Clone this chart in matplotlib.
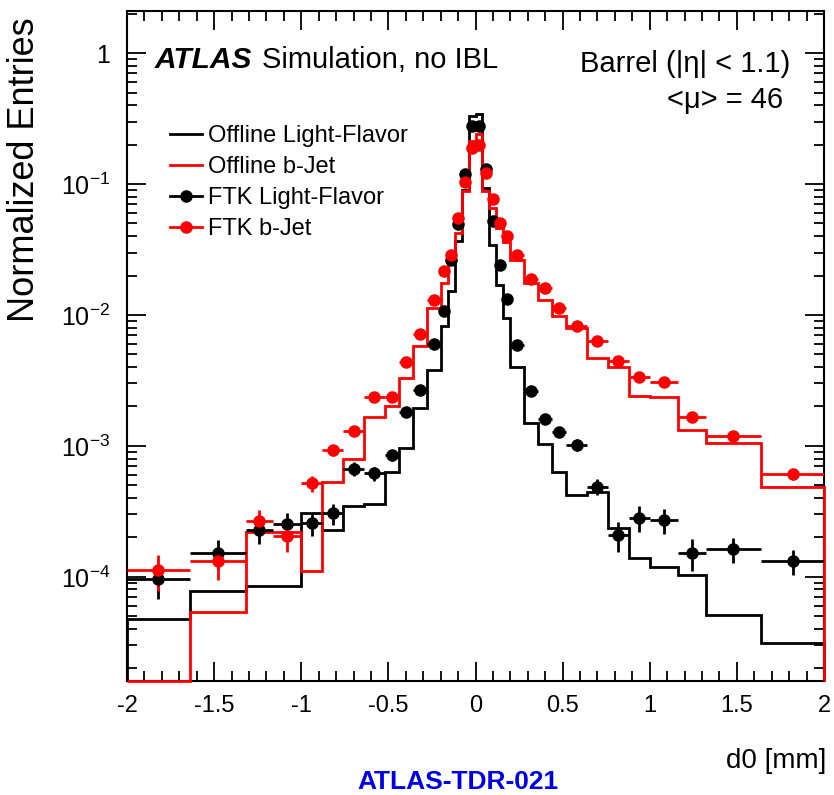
import numpy as np
import matplotlib
matplotlib.use("Agg")
import matplotlib.pyplot as plt
from matplotlib.lines import Line2D
from matplotlib.ticker import MultipleLocator, FixedLocator, LogLocator, NullFormatter, FuncFormatter

# ─── DATA ─────────────────────────────────────────────────────────────────────
# variable-width d0 bins (mm), symmetric around zero
bin_edges = [-2.0, -1.64, -1.32, -1.16, -1.0, -0.88, -0.76, -0.64, -0.52, -0.44,
             -0.36, -0.28, -0.20, -0.16, -0.12, -0.08, -0.04, 0.0,
             0.04, 0.08, 0.12, 0.16, 0.20, 0.28, 0.36, 0.44, 0.52,
             0.64, 0.76, 0.88, 1.0, 1.16, 1.32, 1.64, 2.0]

offline_lf = [4.75e-5, 7.8e-5, 8.5e-5, 8.5e-5, 3.05e-4, 2.28e-4, 3.5e-4, 3.6e-4, 6.35e-4,
              9.6e-4, 1.94e-3, 3.8e-3, 8.2e-3, 0.0153, 0.0365, 0.0906, 0.33,
              0.34, 0.094, 0.0344, 0.0170, 0.0095, 0.0040, 0.0015, 0.00104, 0.000635,
              0.00042, 0.000447, 0.000234, 0.000138, 0.000119, 0.000104, 5.15e-5, 3.1e-5]

offline_b = [0.0, 5.4e-5, 2.21e-4, 2.21e-4, 1.1e-4, 5.3e-4, 8.0e-4, 1.67e-3, 2.0e-3,
             3.3e-3, 5.8e-3, 0.0113, 0.0175, 0.027, 0.042, 0.088, 0.215,
             0.24, 0.088, 0.066, 0.046, 0.036, 0.0264, 0.0175, 0.0131, 0.00975,
             0.0080, 0.00468, 0.00404, 0.00242, 0.00238, 0.00132, 0.00105, 0.000488]

ftk_lf = [9.7e-5, 1.53e-4, 2.28e-4, 2.51e-4, 2.56e-4, 3.05e-4, 6.67e-4, 6.17e-4, 8.53e-4,
          1.83e-3, 2.68e-3, 6.0e-3, 0.0108, 0.0264, 0.0495, 0.12, 0.28,
          0.28, 0.13, 0.052, 0.0239, 0.0133, 0.0059, 0.00263, 0.0016, 0.00128,
          0.00102, 0.000488, 0.000208, 0.000283, 0.000271, 0.000153, 0.000163, 0.000132]
ftk_lf_relerr = [0.30, 0.25, 0.22, 0.22, 0.20, 0.18, 0.12, 0.12, 0.10,
                 0.07, 0.06, 0.04, 0.03, 0.02, 0.02, 0.01, 0.01,
                 0.01, 0.01, 0.02, 0.02, 0.03, 0.04, 0.06, 0.08, 0.09,
                 0.10, 0.14, 0.25, 0.22, 0.22, 0.28, 0.22, 0.22]

ftk_b = [1.12e-4, 1.32e-4, 2.67e-4, 2.06e-4, 5.17e-4, 9.3e-4, 1.3e-3, 2.38e-3, 2.38e-3,
         4.4e-3, 7.13e-3, 0.0131, 0.0215, 0.0288, 0.055, 0.104, 0.19,
         0.20, 0.122, 0.077, 0.0504, 0.0398, 0.0288, 0.0189, 0.0162, 0.0114,
         0.00817, 0.00634, 0.00447, 0.00333, 0.0031, 0.00167, 0.00118, 0.000606]
ftk_b_relerr = [0.30, 0.28, 0.22, 0.25, 0.14, 0.10, 0.08, 0.06, 0.06,
                0.04, 0.03, 0.02, 0.02, 0.02, 0.01, 0.01, 0.01,
                0.01, 0.01, 0.01, 0.02, 0.02, 0.02, 0.03, 0.03, 0.04,
                0.04, 0.05, 0.06, 0.06, 0.06, 0.08, 0.08, 0.10]

x_ticks = [-2, -1.5, -1, -0.5, 0, 0.5, 1, 1.5, 2]
y_ticks = [1e-4, 1e-3, 1e-2, 1e-1, 1]
y_tick_labels = ["$10^{-4}$", "$10^{-3}$", "$10^{-2}$", "$10^{-1}$", "1"]

Y_MIN, Y_MAX = 1.6e-5, 2.1

# ─── STYLE ────────────────────────────────────────────────────────────────────
plt.rcParams["font.family"] = ["Liberation Sans", "DejaVu Sans"]
plt.rcParams["axes.unicode_minus"] = False
plt.rcParams["mathtext.fontset"] = "custom"
plt.rcParams["mathtext.rm"] = "Liberation Sans"
plt.rcParams["mathtext.it"] = "Liberation Sans:italic"
plt.rcParams["mathtext.bf"] = "Liberation Sans:bold"

fig = plt.figure(figsize=(8.34, 7.95), dpi=100)
ax = fig.add_axes([0.1523, 0.1434, 0.8357, 0.8428])

edges = np.array(bin_edges)
centers = 0.5 * (edges[:-1] + edges[1:])
half_w = 0.5 * np.diff(edges)

# offline histograms: empty bins sit on the frame, outline closes to the bottom
ax.stairs(np.clip(offline_lf, Y_MIN, None), edges, baseline=Y_MIN,
          color="black", linewidth=2.0, zorder=3, clip_on=False)
ax.stairs(np.clip(offline_b, Y_MIN, None), edges, baseline=Y_MIN,
          color="#ff0000", linewidth=2.0, zorder=3, clip_on=False)

for vals, rel, col in [(ftk_lf, ftk_lf_relerr, "black"), (ftk_b, ftk_b_relerr, "#ff0000")]:
    vals = np.array(vals)
    ax.errorbar(centers, vals, xerr=half_w, yerr=vals * np.array(rel),
                fmt="o", color=col, markersize=8, elinewidth=2.0, capsize=0, zorder=4)

ax.set_yscale("log")
ax.set_xlim(-2, 2)
ax.set_ylim(Y_MIN, Y_MAX)

ax.xaxis.set_major_locator(FixedLocator(x_ticks))
ax.xaxis.set_minor_locator(MultipleLocator(0.1))
ax.xaxis.set_major_formatter(FuncFormatter(lambda v, p: f"{v:g}"))
ax.yaxis.set_major_locator(FixedLocator(y_ticks))
ax.set_yticklabels(y_tick_labels)
ax.yaxis.set_minor_locator(LogLocator(base=10, subs=np.arange(2, 10)))
ax.yaxis.set_minor_formatter(NullFormatter())

ax.tick_params(which="both", direction="in", top=True, right=True, width=1.3)
ax.tick_params(which="major", length=14)
ax.tick_params(which="minor", length=7)
ax.tick_params(axis="x", which="major", labelsize=17, pad=10)
ax.tick_params(axis="y", which="major", labelsize=18, pad=12)
for s in ax.spines.values():
    s.set_linewidth(1.5)

ax.set_ylabel("Normalized Entries", fontsize=26, loc="top")
ax.yaxis.set_label_coords(-0.122, 0.99)
ax.set_xlabel("d0 [mm]", fontsize=20, loc="right")
ax.xaxis.set_label_coords(1.003, -0.1)

# annotations
ax.text(0.040, 0.915, "ATLAS", transform=ax.transAxes, fontsize=21.5,
        fontweight="bold", fontstyle="italic")
ax.text(0.194, 0.915, "Simulation, no IBL", transform=ax.transAxes, fontsize=21)
ax.text(0.951, 0.909, "Barrel (|η| < 1.1)", transform=ax.transAxes, fontsize=21, ha="right")
ax.text(0.941, 0.855, "<μ> = 46", transform=ax.transAxes, fontsize=21, ha="right")

handles = [
    Line2D([], [], color="black", linewidth=2.0),
    Line2D([], [], color="#ff0000", linewidth=2.0),
    Line2D([], [], color="black", linewidth=2.0, marker="o", markersize=8),
    Line2D([], [], color="#ff0000", linewidth=2.0, marker="o", markersize=8),
]
labels = ["Offline Light-Flavor", "Offline b-Jet", "FTK Light-Flavor", "FTK b-Jet"]
ax.legend(handles, labels, loc="upper left", bbox_to_anchor=(0.062, 0.83),
          frameon=False, fontsize=17, handlelength=1.35, handletextpad=0.25,
          labelspacing=0.38, borderpad=0, borderaxespad=0)

fig.text(0.549, 1.0 / 795, "ATLAS-TDR-021", color="#0000e6", fontsize=19,
         fontweight="bold", ha="center", va="bottom")

fig.savefig("out.png", dpi=100)
